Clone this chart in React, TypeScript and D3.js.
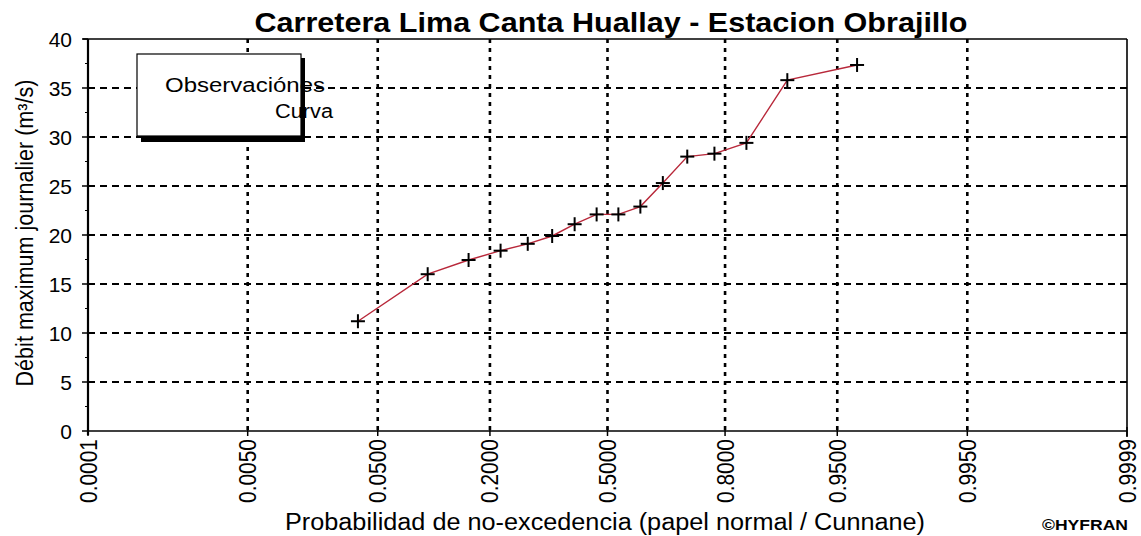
import React from "react";
import * as d3 from "d3";

const title = "Carretera Lima Canta Huallay - Estacion Obrajillo";
const yTitle = "Débit maximum journalier (m³/s)";
const xTitle = "Probabilidad de no-excedencia (papel normal / Cunnane)";
const credit = "©HYFRAN";
const legendLabels = ["Observaciónes", "Curva"];

const probTicks = [0.0001, 0.005, 0.05, 0.2, 0.5, 0.8, 0.95, 0.995, 0.9999];
const probTickLabels = ["0.0001", "0.0050", "0.0500", "0.2000", "0.5000", "0.8000", "0.9500", "0.9950", "0.9999"];
const yTicks = [0, 5, 10, 15, 20, 25, 30, 35, 40];
const yMinorTicks = [2.5, 7.5, 12.5, 17.5, 22.5, 27.5, 32.5, 37.5];

// Cunnane plotting positions of the observations (non-exceedance probability)
const probabilities = [0.037, 0.099, 0.160, 0.222, 0.284, 0.346, 0.407, 0.469, 0.531, 0.593, 0.654, 0.716, 0.778, 0.840, 0.901, 0.963];
// Observed maximum daily discharge (m³/s)
const flows = [11.2, 16.0, 17.45, 18.4, 19.1, 19.9, 21.1, 22.1, 22.1, 22.9, 25.3, 28.0, 28.3, 29.4, 35.8, 37.35];

function invNorm(p: number): number {
  const a = [-3.969683028665376e1, 2.209460984245205e2, -2.759285104469687e2, 1.38357751867269e2, -3.066479806614716e1, 2.506628277459239];
  const b = [-5.447609879822406e1, 1.615858368580409e2, -1.556989798598866e2, 6.680131188771972e1, -1.328068155288572e1];
  const c = [-7.784894002430293e-3, -3.223964580411365e-1, -2.400758277161838, -2.549732539343734, 4.374664141464968, 2.938163982698783];
  const d = [7.784695709041462e-3, 3.224671290700398e-1, 2.445134137142996, 3.754408661907416];
  const pl = 0.02425;
  const ph = 1 - pl;
  if (p < pl) {
    const q = Math.sqrt(-2 * Math.log(p));
    return (((((c[0] * q + c[1]) * q + c[2]) * q + c[3]) * q + c[4]) * q + c[5]) / ((((d[0] * q + d[1]) * q + d[2]) * q + d[3]) * q + 1);
  }
  if (p > ph) {
    const q = Math.sqrt(-2 * Math.log(1 - p));
    return -(((((c[0] * q + c[1]) * q + c[2]) * q + c[3]) * q + c[4]) * q + c[5]) / ((((d[0] * q + d[1]) * q + d[2]) * q + d[3]) * q + 1);
  }
  const q = p - 0.5;
  const r = q * q;
  return ((((((a[0] * r + a[1]) * r + a[2]) * r + a[3]) * r + a[4]) * r + a[5]) * q) / (((((b[0] * r + b[1]) * r + b[2]) * r + b[3]) * r + b[4]) * r + 1);
}

const FONT = "'Liberation Sans', Arial, Helvetica, sans-serif";

export default function App() {
  const W = 1141;
  const H = 536;
  const left = 88;
  const right = 1127;
  const top = 39;
  const bottom = 431;

  const x = d3.scaleLinear().domain([invNorm(probTicks[0]), invNorm(probTicks[probTicks.length - 1])]).range([left, right]);
  const y = d3.scaleLinear().domain([0, 40]).range([bottom, top]);

  const pts = flows.map((v, i) => [x(invNorm(probabilities[i])), y(v)] as [number, number]);
  const linePath = d3.line()(pts) || "";

  const innerTicks = probTicks.slice(1, -1);

  return (
    <svg width={W} height={H} style={{ position: "absolute", left: 0, top: 0, display: "block", background: "#fff" }} fontFamily={FONT}>
      <rect x={0} y={0} width={W} height={H} fill="#fff" />
      {/* horizontal dashed gridlines */}
      {yTicks.filter((t) => t > 0 && t < 40).map((t) => (
        <line key={"hg" + t} x1={left} x2={right} y1={y(t)} y2={y(t)} stroke="#000" strokeWidth={2} strokeDasharray="7 5" />
      ))}
      {/* vertical dotted gridlines */}
      {innerTicks.map((p) => (
        <line key={"vg" + p} x1={x(invNorm(p))} x2={x(invNorm(p))} y1={top} y2={bottom} stroke="#000" strokeWidth={2.6} strokeDasharray="4 5" />
      ))}
      {/* frame */}
      <line x1={left - 5} x2={right} y1={top} y2={top} stroke="#000" strokeWidth={1.6} />
      <line x1={right} x2={right} y1={top} y2={bottom + 6} stroke="#000" strokeWidth={1.6} />
      <line x1={left} x2={right} y1={bottom} y2={bottom} stroke="#000" strokeWidth={1.6} />
      <line x1={left} x2={left} y1={top} y2={bottom + 4} stroke="#000" strokeWidth={2.2} />
      {/* y ticks */}
      {yTicks.map((t) => (
        <line key={"yt" + t} x1={left - 6} x2={left} y1={y(t)} y2={y(t)} stroke="#000" strokeWidth={1.5} />
      ))}
      {yMinorTicks.map((t) => (
        <line key={"ym" + t} x1={left - 3} x2={left} y1={y(t)} y2={y(t)} stroke="#000" strokeWidth={1} />
      ))}
      {yTicks.map((t) => (
        <text key={"yl" + t} x={72} y={y(t)} textAnchor="end" dominantBaseline="central" fontSize={21} fill="#000">
          {t}
        </text>
      ))}
      {/* x ticks */}
      {probTicks.map((p) => (
        <line key={"xt" + p} x1={x(invNorm(p))} x2={x(invNorm(p))} y1={bottom - 4} y2={bottom + 5} stroke="#000" strokeWidth={1.5} />
      ))}
      {probTicks.map((p, i) => (
        <text
          key={"xl" + p}
          transform={`translate(${x(invNorm(p))},${bottom + 8}) rotate(-90)`}
          textAnchor="end"
          dominantBaseline="central"
          fontSize={24}
          textLength={64}
          lengthAdjust="spacingAndGlyphs"
          fill="#000"
        >
          {probTickLabels[i]}
        </text>
      ))}
      {/* legend */}
      <rect x={141} y={58} width={164} height={84} fill="#000" />
      <rect x={137} y={54} width={164} height={82} fill="#fff" stroke="#000" strokeWidth={1.2} />
      <text x={165} y={92} fontSize={20} textLength={160} lengthAdjust="spacingAndGlyphs" fill="#000">
        {legendLabels[0]}
      </text>
      <text x={275} y={118} fontSize={20} textLength={58} lengthAdjust="spacingAndGlyphs" fill="#000">
        {legendLabels[1]}
      </text>
      {/* curve */}
      <path d={linePath} fill="none" stroke="#b8283a" strokeWidth={1.4} />
      {pts.map(([px, py], i) => (
        <g key={"m" + i} stroke="#000" strokeWidth={2}>
          <line x1={px - 7} x2={px + 7} y1={py} y2={py} />
          <line x1={px} x2={px} y1={py - 7} y2={py + 7} />
        </g>
      ))}
      {/* titles */}
      <text x={611} y={32} textAnchor="middle" fontSize={28} fontWeight="bold" textLength={713} lengthAdjust="spacingAndGlyphs" fill="#000">
        {title}
      </text>
      <text transform="translate(33,233) rotate(-90)" textAnchor="middle" fontSize={23} textLength={307} lengthAdjust="spacingAndGlyphs" fill="#000">
        {yTitle}
      </text>
      <text x={605} y={530} textAnchor="middle" fontSize={23} textLength={640} lengthAdjust="spacingAndGlyphs" fill="#000">
        {xTitle}
      </text>
      <text x={1042} y={530} fontSize={15} fontWeight="bold" textLength={86} lengthAdjust="spacingAndGlyphs" fill="#000">
        {credit}
      </text>
    </svg>
  );
}
